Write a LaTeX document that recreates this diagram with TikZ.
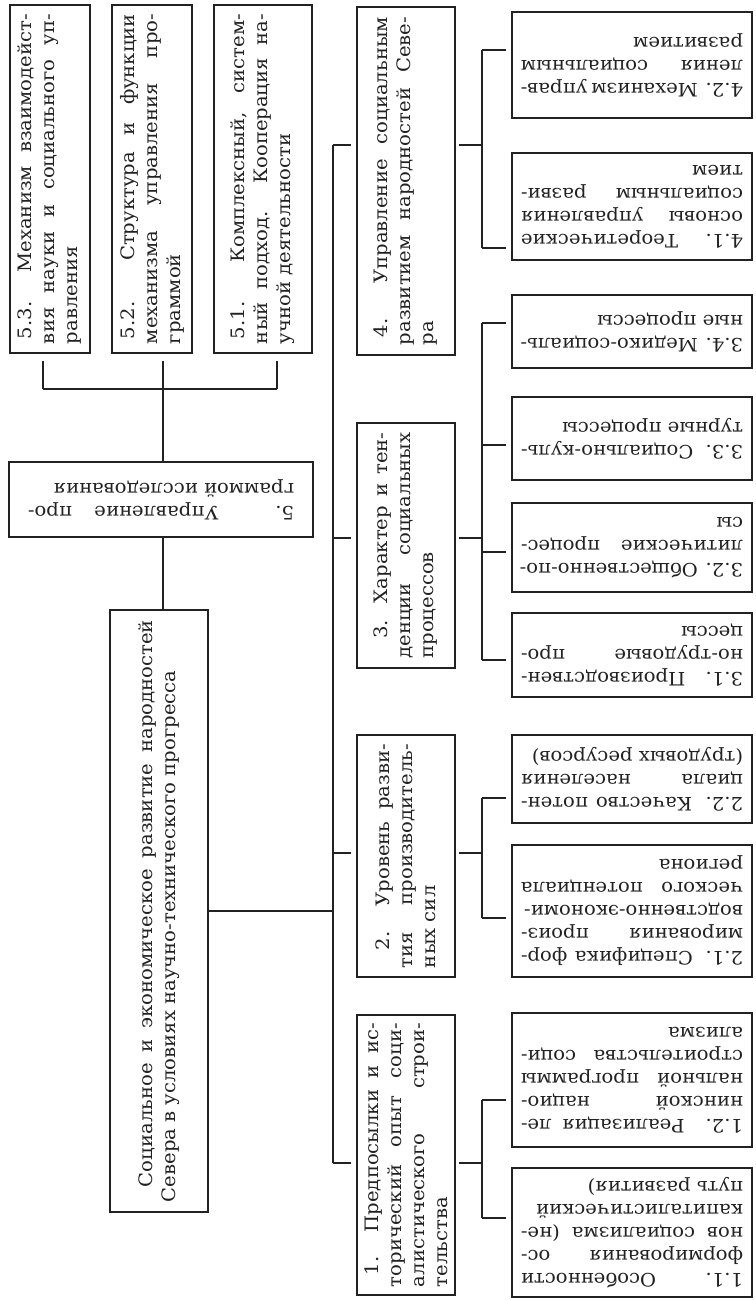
\documentclass[tikz,border=0pt]{standalone}
\usepackage{graphicx}
\usepackage{fontspec}
\setmainfont{DejaVu Serif}[FakeStretch=1.06]
\definecolor{ink}{HTML}{222222}
\newcommand{\jl}[1]{\makebox[\linewidth][s]{#1}}
\newcommand{\tf}{\fontsize{18.5}{23}\selectfont}
\newcommand{\SideT}[2]{\rotatebox{90}{\parbox{#1}{\tf #2}}}
\newcommand{\FlipT}[2]{\rotatebox{180}{\parbox{#1}{\tf #2}}}
\begin{document}
\begin{tikzpicture}[x=1pt,y=-1pt,
  box/.style={draw=ink, line width=1.2pt, inner sep=0pt, text=ink},
  leaf/.style={box, minimum width=240pt},
  mid/.style={box, minimum width=98pt},
  link/.style={draw=ink, line width=1.2pt},
  toedge/.style={shorten >=5pt},
  fromedge/.style={shorten <=3pt}]
\useasboundingbox[fill=white] (0,0) rectangle (755,1300);

% ---- left column: 5.x boxes
\node[box, minimum width=80pt, minimum height=348pt] (b53) at (50,179)
  {\SideT{330pt}{\jl{\hspace*{5pt}5.3. Механизм взаимодейст-}\\\jl{вия науки и социального уп-}\\\mbox{равления}}};
\node[box, minimum width=80pt, minimum height=348pt] (b52) at (152,179)
  {\SideT{330pt}{\jl{\hspace*{5pt}5.2. Структура и функции}\\\jl{механизма управления про-}\\\mbox{граммой}}};
\node[box, minimum width=98pt, minimum height=348pt] (b51) at (263,179)
  {\SideT{330pt}{\jl{\hspace*{5pt}5.1. Комплексный, систем-}\\\jl{ный подход. Кооперация на-}\\\mbox{учной деятельности}}};

% ---- box 5
\node[box, minimum width=304pt, minimum height=75pt] (b5) at (161,499.5)
  {\FlipT{266pt}{\jl{5. Управление про-}\\\mbox{граммой исследования}}};

% ---- root
\node[box, minimum width=98pt, minimum height=602pt] (root) at (159,911)
  {\SideT{582pt}{\jl{\hspace*{15pt}Социальное и экономическое развитие народностей}\\\mbox{Севера в условиях научно-технического прогресса}}};

% ---- middle column
\node[mid, minimum height=348pt] (b4) at (406,181)
  {\SideT{328pt}{\jl{\hspace*{8pt}4. Управление социальным}\\\jl{развитием народностей Севе-}\\\mbox{ра}}};
\node[mid, minimum height=245pt] (b3) at (406,545.5)
  {\SideT{226pt}{\jl{\hspace*{20pt}3. Характер и тен-}\\\jl{денции социальных}\\\mbox{процессов}}};
\node[mid, minimum height=242pt] (b2) at (406,856)
  {\SideT{224pt}{\jl{\hspace*{18pt}2. Уровень разви-}\\\jl{тия производитель-}\\\mbox{ных сил}}};
\node[mid, minimum height=280pt] (b1) at (406,1155)
  {\SideT{264pt}{\jl{\hspace*{12pt}1. Предпосылки и ис-}\\\jl{торический опыт соци-}\\\jl{алистического строи-}\\\mbox{тельства}}};

% ---- leaves
\node[leaf, minimum height=106pt] (l42) at (632,65)
  {\FlipT{222pt}{\jl{4.2. Механизм управ-}\\\jl{ления социальным}\\\mbox{развитием}}};
\node[leaf, minimum height=107pt] (l41) at (632,206.5)
  {\FlipT{222pt}{\jl{4.1. Теоретические}\\\jl{основы управления}\\\jl{социальным разви-}\\\mbox{тием}}};
\node[leaf, minimum height=73pt] (l34) at (632,331.5)
  {\FlipT{222pt}{\jl{3.4. Медико-социаль-}\\\mbox{ные процессы}}};
\node[leaf, minimum height=83pt] (l33) at (632,438.5)
  {\FlipT{222pt}{\jl{3.3. Социально-куль-}\\\mbox{турные процессы}}};
\node[leaf, minimum height=89pt] (l32) at (632,547.5)
  {\FlipT{222pt}{\jl{3.2. Общественно-по-}\\\jl{литические процес-}\\\mbox{сы}}};
\node[leaf, minimum height=84pt] (l31) at (632,655)
  {\FlipT{222pt}{\jl{3.1. Производствен-}\\\jl{но-трудовые про-}\\\mbox{цессы}}};
\node[leaf, minimum height=88pt] (l22) at (632,779)
  {\FlipT{222pt}{\jl{2.2. Качество потен-}\\\jl{циала населения}\\\mbox{(трудовых ресурсов)}}};
\node[leaf, minimum height=132pt] (l21) at (632,911)
  {\FlipT{222pt}{\jl{2.1. Специфика фор-}\\\jl{мирования произ-}\\\jl{водственно-экономи-}\\\jl{ческого потенциала}\\\mbox{региона}}};
\node[leaf, minimum height=134pt] (l12) at (632,1080)
  {\FlipT{222pt}{\jl{1.2. Реализация ле-}\\\jl{нинской нацио-}\\\jl{нальной программы}\\\jl{строительства соци-}\\\mbox{ализма}}};
\node[leaf, minimum height=129pt] (l11) at (632,1232.5)
  {\FlipT{222pt}{\jl{1.1. Особенности}\\\jl{формирования ос-}\\\jl{нов социализма (не-}\\\jl{капиталистический}\\\mbox{путь развития)}}};

% ---- connectors, left column
\coordinate (k53) at (43,389);
\coordinate (k52) at (163,389);
\coordinate (k51) at (277,389);
\draw[link, shorten >=7pt] (k53) -- (k53 |- b53.south);
\draw[link, shorten >=7pt] (k52) -- (k52 |- b52.south);
\draw[link, shorten >=7pt] (k51) -- (k51 |- b51.south);
\draw[link] (k53) -- (k51);
\draw[link] (k52) -- (k52 |- b5.north);
\draw[link] (b5.south -| k52) -- (k52 |- root.north);
\coordinate (rc) at (333,911);
\draw[link] (root.east |- rc) -- (rc);

% ---- trunk
\coordinate (t4) at (333,145);
\coordinate (t3) at (333,538);
\coordinate (t2) at (333,853);
\coordinate (t1) at (333,1163);
\draw[link] (t4) -- (t1);
\draw[link, toedge] (t4) -- (b4.west |- t4);
\draw[link, toedge] (t3) -- (b3.west |- t3);
\draw[link, toedge] (t2) -- (b2.west |- t2);
\draw[link, toedge] (t1) -- (b1.west |- t1);

% ---- brackets to leaves
\coordinate (p4) at (482,145);
\coordinate (p3) at (482,538);
\coordinate (p2) at (482,853);
\coordinate (p1) at (482,1163);
\draw[link, fromedge] (b4.east |- p4) -- (p4);
\draw[link, fromedge] (b3.east |- p3) -- (p3);
\draw[link, fromedge] (b2.east |- p2) -- (p2);
\draw[link, fromedge] (b1.east |- p1) -- (p1);

\coordinate (q42) at (482,50);
\coordinate (q41) at (482,248);
\coordinate (q34) at (482,323);
\coordinate (q33) at (482,445);
\coordinate (q32) at (482,552);
\coordinate (q31) at (482,660);
\coordinate (q22) at (482,798);
\coordinate (q21) at (482,918);
\coordinate (q12) at (482,1100);
\coordinate (q11) at (482,1218);
\draw[link] (q42) -- (q41);
\draw[link] (q34) -- (q31);
\draw[link] (q22) -- (q21);
\draw[link] (q12) -- (q11);
\draw[link, toedge] (q42) -- (l42.west |- q42);
\draw[link, toedge] (q41) -- (l41.west |- q41);
\draw[link, toedge] (q34) -- (l34.west |- q34);
\draw[link, toedge] (q33) -- (l33.west |- q33);
\draw[link, toedge] (q32) -- (l32.west |- q32);
\draw[link, toedge] (q31) -- (l31.west |- q31);
\draw[link, toedge] (q22) -- (l22.west |- q22);
\draw[link, toedge] (q21) -- (l21.west |- q21);
\draw[link, toedge] (q12) -- (l12.west |- q12);
\draw[link, toedge] (q11) -- (l11.west |- q11);
\end{tikzpicture}
\end{document}
